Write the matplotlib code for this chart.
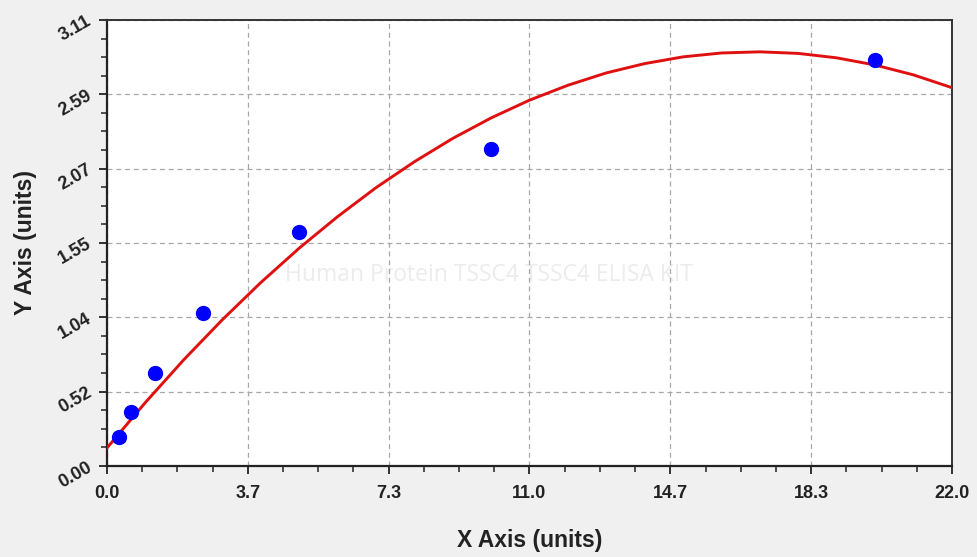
import matplotlib
matplotlib.use("Agg")
import matplotlib.pyplot as plt
from matplotlib.ticker import FixedLocator, AutoMinorLocator

# data points
x_pts = [0.3125, 0.625, 1.25, 2.5, 5.0, 10.0, 20.0]
y_pts = [0.20, 0.375, 0.645, 1.07, 1.63, 2.21, 2.83]

# fitted curve
x_fit = [0, 1, 2, 3, 4, 5, 6, 7, 8, 9, 10, 11,
         12, 13, 14, 15, 16, 17, 18, 19, 20, 21, 22]
y_fit = [0.126, 0.443, 0.741, 1.019, 1.278, 1.518, 1.738, 1.940, 2.121, 2.284, 2.427, 2.551,
         2.655, 2.741, 2.806, 2.853, 2.880, 2.888, 2.877, 2.846, 2.796, 2.727, 2.638]

x_ticks = [0.0, 22/6, 44/6, 11.0, 88/6, 110/6, 22.0]
x_labels = ["0.0", "3.7", "7.3", "11.0", "14.7", "18.3", "22.0"]
y_ticks = [0.0, 3.11/6, 6.22/6, 9.33/6, 12.44/6, 15.55/6, 3.11]
y_labels = ["0.00", "0.52", "1.04", "1.55", "2.07", "2.59", "3.11"]

watermark = "Human Protein TSSC4 TSSC4 ELISA KIT"

plt.rcParams['font.family'] = ['Liberation Sans', 'DejaVu Sans']

fig = plt.figure(figsize=(9.78, 5.57), dpi=100, facecolor='#f0f0f0')
ax = fig.add_axes([0.1094, 0.1634, 0.8640, 0.8007])
ax.set_facecolor('white')

ax.plot(x_fit, y_fit, color='#e01010', lw=2.1, zorder=3, solid_joinstyle='round')
ax.plot(x_pts, y_pts, 'o', color='#0000ff', markersize=10, zorder=4)

ax.set_xlim(0, 22)
ax.set_ylim(0, 3.11)
ax.xaxis.set_major_locator(FixedLocator(x_ticks))
ax.yaxis.set_major_locator(FixedLocator(y_ticks))
ax.xaxis.set_minor_locator(AutoMinorLocator(4))
ax.yaxis.set_minor_locator(AutoMinorLocator(4))
ax.set_xticklabels(x_labels, fontsize=13, fontweight='bold', color='#222222')
ax.set_yticklabels(y_labels, fontsize=13, fontweight='bold', color='#222222',
                   rotation=30, ha='right', va='center', rotation_mode='anchor')

ax.tick_params(axis='both', which='major', direction='out', length=6, width=1.3, color='#222222')
ax.tick_params(axis='both', which='minor', direction='out', length=4, width=1.1, color='#222222')
ax.tick_params(axis='x', which='major', pad=8)
ax.tick_params(axis='y', which='major', pad=6)

ax.grid(True, which='major', color='#a8a8a8', linestyle=(0, (4, 3)), linewidth=0.9)

for side in ['left', 'bottom']:
    ax.spines[side].set_color('#222222')
    ax.spines[side].set_linewidth(1.6)
for side in ['top', 'right']:
    ax.spines[side].set_color('#333333')
    ax.spines[side].set_linewidth(1.4)

ax.set_xlabel("X Axis (units)", fontsize=16.5, fontweight='bold', color='#222222', labelpad=19)
ax.set_ylabel("Y Axis (units)", fontsize=16.5, fontweight='bold', color='#222222', labelpad=13)

ax.text(0.452, 0.428, watermark, transform=ax.transAxes, fontsize=16.5,
        family=['Open Sans', 'DejaVu Sans'], color='#ececec', ha='center', va='center', zorder=1)

fig.savefig("out.png", dpi=100, facecolor=fig.get_facecolor())
